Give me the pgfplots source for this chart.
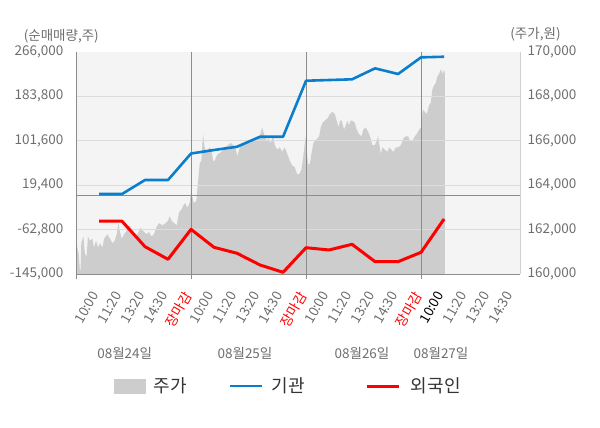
\documentclass[border=0pt]{standalone}
\usepackage{pgfplots}
\pgfplotsset{compat=1.18}
\usepackage{fontspec}
\setmainfont{Noto Sans CJK KR}
\definecolor{bgc}{HTML}{F4F4F4}
\definecolor{areac}{HTML}{CDCDCD}
\definecolor{gridc}{HTML}{DCDCDC}
\definecolor{axisc}{HTML}{8C8C8C}
\definecolor{tickc}{HTML}{6E6E6E}
\definecolor{legc}{HTML}{333333}
\definecolor{bluec}{HTML}{0A7ECC}
\definecolor{redc}{HTML}{FF0000}
\definecolor{rightc}{HTML}{D0D0D0}
\newcommand\tickfont{\fontsize{13.5bp}{16bp}\selectfont}
\newcommand\legfont{\fontsize{18bp}{21bp}\selectfont}

\pgfplotstableread{
t price
0 160000
0 161500
0.12 160900
0.17 160200
0.20 160200
0.23 161400
0.32 161700
0.39 160900
0.46 160800
0.52 161700
0.61 161500
0.71 161600
0.78 161200
0.87 161500
0.96 161200
1.04 161400
1.15 161200
1.22 161600
1.36 161800
1.48 161600
1.58 161400
1.68 161500
1.77 161800
1.84 162300
1.91 161900
1.99 161600
2.09 161800
2.23 162000
2.35 162200
2.45 161900
2.57 161600
2.67 161800
2.81 162100
2.96 161900
3.07 161800
3.17 161900
3.28 161700
3.39 161800
3.49 162100
3.61 162300
3.75 162200
3.90 162300
4.00 162400
4.07 162600
4.16 162400
4.26 162300
4.38 162200
4.48 162800
4.58 162900
4.67 163100
4.74 163200
4.84 163000
4.94 163200
5.01 163800
5.09 163300
5.16 163200
5.23 163300
5.30 164100
5.38 165000
5.45 165100
5.52 166300
5.59 165700
5.67 165500
5.74 165600
5.81 165700
5.88 165600
5.96 165100
6.03 165100
6.10 165300
6.17 165400
6.32 165500
6.46 165700
6.61 165800
6.73 165900
6.83 165800
6.93 165700
7.01 165300
7.12 165700
7.26 165800
7.41 165900
7.55 165900
7.70 166000
7.84 166000
7.99 166200
8.09 166600
8.17 166300
8.28 166000
8.35 166100
8.46 165900
8.57 166200
8.64 165800
8.75 165600
8.86 165700
8.96 165500
9.07 165700
9.19 165400
9.29 165100
9.39 164900
9.51 164800
9.61 164500
9.70 164500
9.80 164700
9.88 165300
9.96 166000
10.01 166300
10.03 165600
10.09 164900
10.17 165000
10.23 165400
10.32 165900
10.39 166000
10.49 166100
10.57 166200
10.64 166600
10.71 166800
10.81 166900
10.93 167000
11.04 167200
11.15 167300
11.25 167200
11.33 166900
11.41 166600
11.48 166900
11.55 166900
11.65 166500
11.73 166700
11.80 166900
11.87 166700
11.94 166900
12.01 166900
12.12 166800
12.20 166500
12.30 166300
12.41 166200
12.49 166500
12.59 166600
12.70 166400
12.78 166200
12.88 165800
12.99 165800
13.07 166000
13.13 166200
13.19 165800
13.25 165400
13.32 165700
13.42 165600
13.54 165500
13.61 165700
13.71 165600
13.80 165500
13.90 165700
14.00 165700
14.12 165800
14.23 166100
14.33 166200
14.44 166200
14.52 166000
14.62 166000
14.73 166200
14.81 166300
14.91 166500
15.01 166600
15.07 167400
15.16 167300
15.25 167200
15.35 167600
15.42 167700
15.49 168300
15.57 168500
15.64 168600
15.71 168900
15.78 169000
15.86 169200
15.93 169000
16.00 169200
16.03 169000
16.03 160000
}\pricetable

\pgfplotstableread{
t inst
1 3200
2 3200
3 29100
4 29100
5 78000
6 84500
7 90500
8 109000
9 109000
10 212400
11 213700
12 215000
13 235300
14 224800
15 255600
16 256700
}\insttable

\pgfplotstableread{
t forn
1 -47000
2 -47000
3 -94000
4 -117300
5 -62000
6 -95200
7 -106200
8 -127800
9 -141300
10 -95900
11 -100100
12 -89600
13 -121700
14 -121700
15 -104400
16 -42900
}\forntable

\begin{document}
\begin{tikzpicture}
\useasboundingbox (0,0) rectangle (600bp,428bp);
% price axis (right)
\begin{axis}[
  at={(76bp,153.7bp)}, anchor=south west,
  scale only axis, width=444bp, height=222.6bp,
  xmin=0, xmax=19.3, ymin=160000, ymax=170000,
  scaled y ticks=false,
  axis x line=none, axis y line*=right,
  y axis line style={draw=rightc, line width=1bp, -},
  ytick={160000,162000,164000,166000,168000,170000},
  yticklabels={{160,000},{162,000},{164,000},{166,000},{168,000},{170,000}},
  major tick length=0pt,
  extra y ticks={162000,164000,166000,168000},
  extra y tick labels={},
  extra y tick style={grid=major, major grid style={draw=gridc, line width=1bp}},
  axis background/.style={fill=bgc},
  axis on top,
  yticklabel style={font=\tickfont, text=tickc, inner sep=0pt, anchor=west, xshift=7.5bp},
]
\addplot[fill=areac, draw=none] table[x=t, y=price] {\pricetable};
\end{axis}
% net volume axis (left)
\begin{axis}[
  at={(76bp,153.7bp)}, anchor=south west,
  scale only axis, width=444bp, height=222.6bp,
  xmin=0, xmax=19.3, ymin=-145000, ymax=266000,
  scaled y ticks=false, scaled x ticks=false,
  axis x line*=bottom, axis y line*=left,
  axis line style={draw=axisc, line width=1bp, -},
  xtick={1,...,19},
  xticklabels={10:00,11:20,13:20,14:30,\textcolor{red}{장마감},10:00,11:20,13:20,14:30,\textcolor{red}{장마감},10:00,11:20,13:20,14:30,\textcolor{red}{장마감},\textcolor{black}{10:00},11:20,13:20,14:30},
  xticklabel style={font=\tickfont, text=tickc, xshift=-8.4bp, yshift=-15.7bp, rotate=60, anchor=north east, inner sep=0pt},
  ytick={-145000,-62800,19400,101600,183800,266000},
  yticklabels={{-145,000},{-62,800},{19,400},{101,600},{183,800},{266,000}},
  yticklabel style={font=\tickfont, text=tickc, inner sep=0pt, anchor=east, xshift=-12.5bp},
  major tick length=0pt,
  xtick align=outside,
  extra x ticks={0,5,10,15},
  extra x tick labels={},
  extra x tick style={grid=major, major grid style={draw=axisc, line width=1bp}, tick style={draw=axisc, line width=1bp}, major tick length=5bp},
  extra y ticks={0},
  extra y tick labels={},
  extra y tick style={grid=major, major grid style={draw=axisc, line width=1bp}},
  legend columns=3,
  legend style={at={(0.0856,-0.5018)}, anchor=west, draw=none, fill=none, inner sep=0pt,
    font=\legfont, text=legc, column sep=0pt,
    nodes={inner sep=0pt},
    /tikz/column 1/.style={column sep=8bp},
    /tikz/column 2/.style={column sep=42bp},
    /tikz/column 3/.style={column sep=8.5bp},
    /tikz/column 4/.style={column sep=61bp},
    /tikz/column 5/.style={column sep=10bp}},
  legend image code/.code={\draw[#1] (0bp,0bp) -- (32bp,0bp);},
]
\addlegendimage{legend image code/.code={\fill[areac] (0bp,-6.85bp) rectangle (31bp,6.85bp);}}
\addlegendentry{주가}
\addplot[draw=bluec, line width=2.6bp, line join=round] table[x=t, y=inst] {\insttable};
\addlegendentry{기관}
\addplot[draw=redc, line width=3bp, line join=round] table[x=t, y=forn] {\forntable};
\addlegendentry{외국인}
\end{axis}
\node[font=\tickfont, text=tickc] at (61.3bp,391.7bp) {(순매매량,주)};
\node[font=\tickfont, text=tickc] at (535.5bp,394bp) {(주가,원)};
\node[font=\tickfont, text=tickc] at (124.7bp,75bp) {08월24일};
\node[font=\tickfont, text=tickc] at (245bp,75bp) {08월25일};
\node[font=\tickfont, text=tickc] at (362bp,75bp) {08월26일};
\node[font=\tickfont, text=tickc] at (441bp,75bp) {08월27일};
\end{tikzpicture}
\end{document}
